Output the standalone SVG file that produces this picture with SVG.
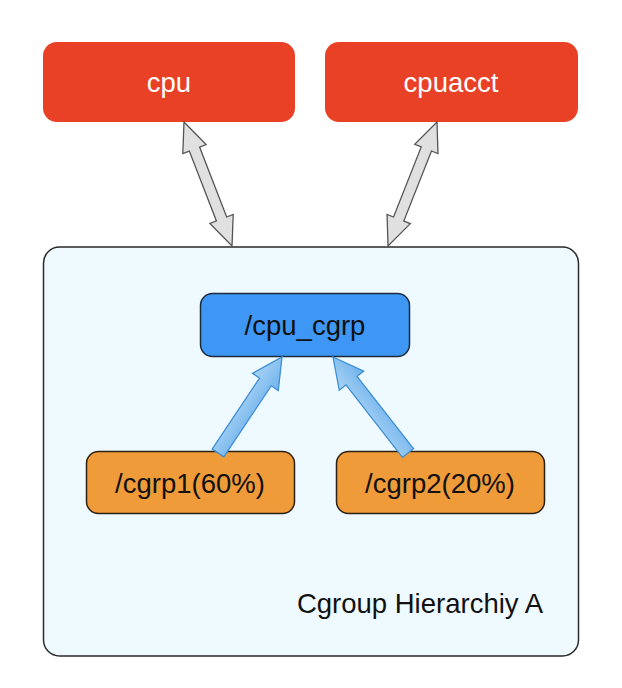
<svg xmlns="http://www.w3.org/2000/svg" width="622" height="688" viewBox="0 0 622 688">
<defs>
<linearGradient id="blueg" x1="0" y1="0" x2="0" y2="1">
<stop offset="0" stop-color="#a9d3f5"/>
<stop offset="1" stop-color="#6fb2ec"/>
</linearGradient>
</defs>
<style>
text{font-family:"Liberation Sans",Arial,sans-serif;font-size:27.5px;text-anchor:middle}
.red{fill:#e84126}
.redt{fill:#ffffff}
.dark{fill:#111111}
.blue{fill:#3f97f5;stroke:#1d2b3a;stroke-width:1.5}
.orange{fill:#f09b39;stroke:#2b2114;stroke-width:1.5}
.dbl{fill:#e0e0e0;stroke:#555555;stroke-width:1.3;stroke-linejoin:miter}
.up{fill:url(#blueg);stroke:#3d8ed4;stroke-width:1.3}
</style>
<rect width="622" height="688" fill="#ffffff"/>
<g id="hierarchy">
<rect x="43.5" y="247" width="535" height="409" rx="16" fill="#eefaff" stroke="#2a2a2a" stroke-width="1.5"/>
<text x="543" y="613" class="dark" style="text-anchor:end">Cgroup Hierarchiy A</text>
</g>
<g id="cpu">
<rect x="43" y="42" width="252" height="80" rx="14" class="red"/>
<text x="169" y="92" class="redt">cpu</text>
</g>
<g id="cpuacct">
<rect x="325" y="42" width="253" height="80" rx="14" class="red"/>
<text x="451" y="92" class="redt">cpuacct</text>
</g>
<g id="cpu_cgrp">
<rect x="200.5" y="293.5" width="209" height="63" rx="12" class="blue"/>
<text x="305" y="335" class="dark">/cpu_cgrp</text>
</g>
<g id="cgrp1">
<rect x="86.5" y="451.5" width="208" height="62" rx="12" class="orange"/>
<text x="190" y="493" class="dark">/cgrp1(60%)</text>
</g>
<g id="cgrp2">
<rect x="336.5" y="451.5" width="208" height="62" rx="12" class="orange"/>
<text x="440" y="493" class="dark">/cgrp2(20%)</text>
</g>
<g id="connectors">
<path class="dbl" transform="translate(184,122) rotate(68.84)" d="M0,0 L29,-12.5 L29,-5.5 L104,-5.5 L104,-12.5 L133,0 L104,12.5 L104,5.5 L29,5.5 L29,12.5 Z"/>
<path class="dbl" transform="translate(437,122) rotate(111.56)" d="M0,0 L29,-12.5 L29,-5.5 L104.3,-5.5 L104.3,-12.5 L133.3,0 L104.3,12.5 L104.3,5.5 L29,5.5 L29,12.5 Z"/>
<path class="up" transform="translate(218,453) rotate(-56.31)" d="M0,-7 L85.4,-7 L85.4,-15.5 L115.4,0 L85.4,15.5 L85.4,7 L0,7 Z"/>
<path class="up" transform="translate(408,453) rotate(-127.99)" d="M0,-7 L91.8,-7 L91.8,-15.5 L121.8,0 L91.8,15.5 L91.8,7 L0,7 Z"/>
</g>
</svg>
